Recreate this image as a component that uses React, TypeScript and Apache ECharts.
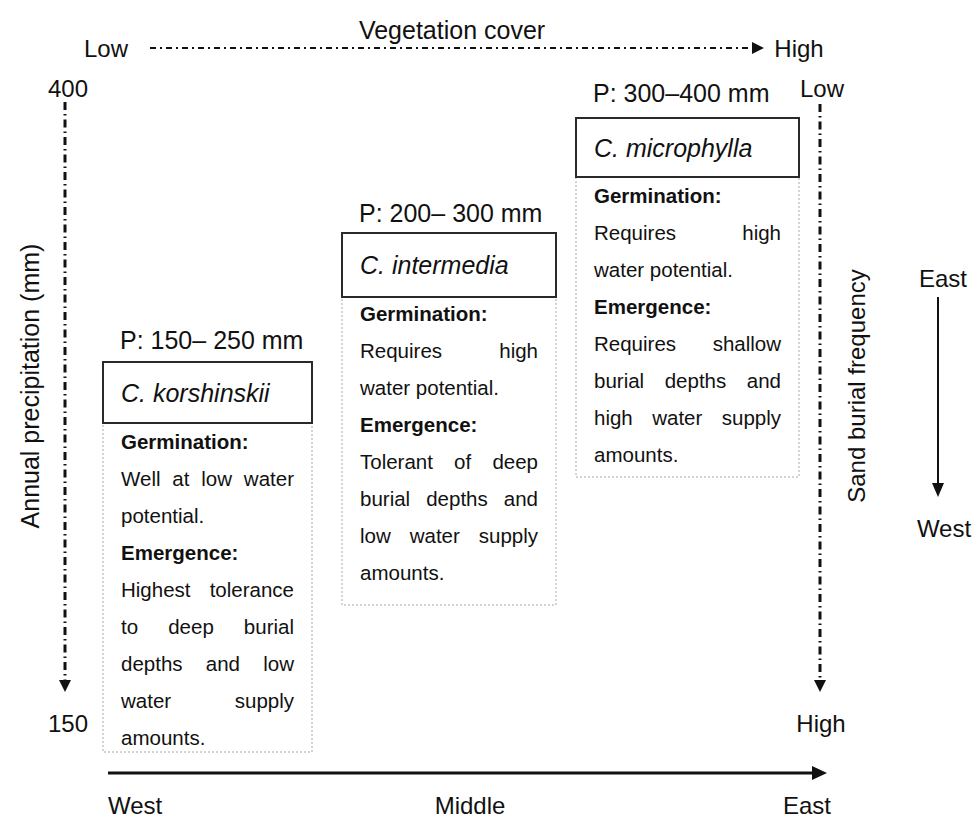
import React, { useEffect, useRef } from "react";
import * as echarts from "echarts";

// ---- content ----
const species = ["C. korshinskii", "C. intermedia", "C. microphylla"];
const precipLabels = ["P: 150– 250 mm", "P: 200– 300 mm", "P: 300–400 mm"];
const germinationLines = [
  ["Well at low water", "potential."],
  ["Requires high", "water potential."],
  ["Requires high", "water potential."],
];
const emergenceLines = [
  ["Highest tolerance", "to deep burial", "depths and low", "water supply", "amounts."],
  ["Tolerant of deep", "burial depths and", "low water supply", "amounts."],
  ["Requires shallow", "burial depths and", "high water supply", "amounts."],
];
const topAxis = { title: "Vegetation cover", from: "Low", to: "High" };
const leftAxis = { title: "Annual precipitation (mm)", from: "400", to: "150" };
const rightAxis = { title: "Sand burial frequency", from: "Low", to: "High" };
const bottomAxis = ["West", "Middle", "East"];
const sideArrow = ["East", "West"];

// ---- layout ----
const boxLayout = [
  { x: 103, w: 209, pY: 340, headTop: 362, headBottom: 423, firstLine: 441, bottom: 752 },
  { x: 342, w: 214, pY: 213, headTop: 233, headBottom: 297, firstLine: 313, bottom: 605 },
  { x: 576, w: 223, pY: 93, headTop: 118, headBottom: 177, firstLine: 195, bottom: 477 },
];
const FONT = '"Liberation Sans", Arial, Helvetica, sans-serif';
const BODY = 20.5;
const HEAD = 25;
const LABEL = 24;
const LINE_H = 37;

let measureCtx: CanvasRenderingContext2D | null = null;
function measure(text: string, size: number, weight = "normal"): number {
  if (!measureCtx) measureCtx = document.createElement("canvas").getContext("2d");
  measureCtx!.font = `${weight} ${size}px ${FONT}`;
  return measureCtx!.measureText(text).width;
}

function txt(text: string, x: number, y: number, o: any = {}) {
  const align = o.align || "left";
  return {
    type: "text",
    x,
    y,
    rotation: o.rotation || 0,
    silent: true,
    style: {
      text,
      fill: o.fill || "#111",
      fontSize: o.size || LABEL,
      fontFamily: FONT,
      fontWeight: o.weight || "normal",
      fontStyle: o.style || "normal",
      align,
      verticalAlign: "middle",
      textAlign: align,
      textVerticalAlign: "middle",
    },
  };
}

function justifiedLine(line: string, x: number, y: number, width: number, justify: boolean) {
  if (!justify) return [txt(line, x, y, { size: BODY })];
  const words = line.split(" ");
  if (words.length < 2) return [txt(line, x, y, { size: BODY })];
  const widths = words.map((w) => measure(w, BODY));
  const total = widths.reduce((a, b) => a + b, 0);
  const gap = (width - total) / (words.length - 1);
  const out: any[] = [];
  let cx = x;
  words.forEach((w, i) => {
    out.push(txt(w, cx, y, { size: BODY }));
    cx += widths[i] + gap;
  });
  return out;
}

function buildBox(i: number) {
  const L = boxLayout[i];
  const els: any[] = [];
  els.push({
    type: "rect",
    shape: { x: L.x, y: L.headBottom, width: L.w, height: L.bottom - L.headBottom },
    style: { fill: "none", stroke: "#a8a8a8", lineWidth: 1, lineDash: [2, 2] },
    silent: true,
  });
  els.push({
    type: "rect",
    shape: { x: L.x, y: L.headTop, width: L.w, height: L.headBottom - L.headTop },
    style: { fill: "#fff", stroke: "#2a2a2a", lineWidth: 2 },
    silent: true,
  });
  els.push(txt(precipLabels[i], L.x + 17, L.pY, { size: HEAD }));
  els.push(txt(species[i], L.x + 18, (L.headTop + L.headBottom) / 2, { size: HEAD, style: "italic" }));
  const tx = L.x + 18;
  const tw = L.w - 36;
  let y = L.firstLine;
  els.push(txt("Germination:", tx, y, { size: BODY, weight: "bold" }));
  y += LINE_H;
  germinationLines[i].forEach((ln, k) => {
    els.push(...justifiedLine(ln, tx, y, tw, k < germinationLines[i].length - 1));
    y += LINE_H;
  });
  els.push(txt("Emergence:", tx, y, { size: BODY, weight: "bold" }));
  y += LINE_H;
  emergenceLines[i].forEach((ln, k) => {
    els.push(...justifiedLine(ln, tx, y, tw, k < emergenceLines[i].length - 1));
    y += LINE_H;
  });
  return els;
}

function dashLine(x1: number, y1: number, x2: number, y2: number, lw: number, dash: number[]) {
  return {
    type: "line",
    silent: true,
    shape: { x1, y1, x2, y2 },
    style: { stroke: "#111", lineWidth: lw, lineDash: dash },
  };
}
function tri(points: number[][]) {
  return { type: "polygon", silent: true, shape: { points }, style: { fill: "#111" } };
}

export default function App() {
  const ref = useRef<HTMLDivElement>(null);
  useEffect(() => {
    if (!ref.current) return;
    const chart = echarts.init(ref.current, null, { renderer: "svg" });
    const els: any[] = [];
    els.push({ type: "rect", shape: { x: 0, y: 0, width: 975, height: 818 }, style: { fill: "#fff" }, silent: true });

    // top axis (vegetation cover)
    els.push(txt(topAxis.title, 452, 30, { align: "center", size: 25 }));
    els.push(txt(topAxis.from, 106, 48, { align: "center" }));
    els.push(txt(topAxis.to, 799, 48, { align: "center" }));
    els.push(dashLine(150, 48, 752, 48, 2, [6, 4, 2, 4]));
    els.push(tri([[752, 42], [764, 48], [752, 54]]));

    // left axis (precipitation)
    els.push(txt(leftAxis.from, 68, 88, { align: "center" }));
    els.push(txt(leftAxis.to, 68, 723, { align: "center" }));
    els.push(dashLine(65, 102, 65, 680, 3, [8, 4, 1.5, 4]));
    els.push(tri([[59, 680], [65, 692], [71, 680]]));
    els.push(txt(leftAxis.title, 30, 386, { align: "center", rotation: Math.PI / 2, size: 25 }));

    // right axis (sand burial)
    els.push(txt(rightAxis.from, 822, 88, { align: "center" }));
    els.push(txt(rightAxis.to, 821, 723, { align: "center" }));
    els.push(dashLine(820, 104, 820, 680, 3, [8, 4, 1.5, 4]));
    els.push(tri([[814, 680], [820, 692], [826, 680]]));
    els.push(txt(rightAxis.title, 856, 386, { align: "center", rotation: Math.PI / 2 }));

    // side arrow East -> West
    els.push(txt(sideArrow[0], 943, 278, { align: "center" }));
    els.push(txt(sideArrow[1], 944, 528, { align: "center" }));
    els.push(dashLine(938, 297, 938, 484, 2, []));
    els.push(tri([[932, 483], [938, 497], [944, 483]]));

    // bottom axis
    els.push(dashLine(108, 773, 814, 773, 3, []));
    els.push(tri([[812, 766], [827, 773], [812, 780]]));
    els.push(txt(bottomAxis[0], 108, 805, { align: "left" }));
    els.push(txt(bottomAxis[1], 470, 805, { align: "center" }));
    els.push(txt(bottomAxis[2], 831, 805, { align: "right" }));

    for (let i = 0; i < 3; i++) els.push(...buildBox(i));

    chart.setOption({ animation: false, graphic: { elements: els } });
    return () => chart.dispose();
  }, []);
  return (
    <div
      ref={ref}
      style={{ position: "fixed", left: 0, top: 0, width: 975, height: 818, background: "#fff" }}
    />
  );
}
